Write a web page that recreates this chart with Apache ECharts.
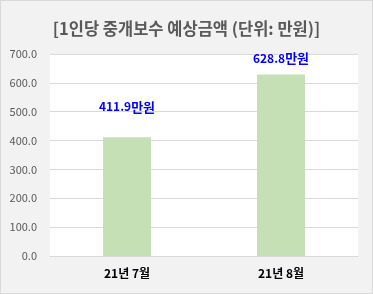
<!DOCTYPE html>
<html><head><meta charset="utf-8">
<script src="https://cdn.jsdelivr.net/npm/echarts@6/dist/echarts.min.js"></script>
<style>html,body{margin:0;padding:0;background:#f2f2f2}#c{width:373px;height:294px;box-sizing:border-box;border:1px solid #d9d9d9}</style>
</head><body><div id="c"></div>
<script>
const title = '[1인당 중개보수 예상금액 (단위: 만원)]';
const categories = ['21년 7월', '21년 8월'];
const values = [411.9, 628.8];
const labelDistances = [24, 10];
const yMax = 700, yInterval = 100;
const FONT = "'Noto Sans CJK KR', 'Noto Sans', sans-serif";

const chart = echarts.init(document.getElementById('c'), null, {renderer: 'canvas'});
chart.setOption({
  backgroundColor: '#f2f2f2',
  animation: false,
  title: {text: title, left: 'center', top: 14,
    textStyle: {fontFamily: FONT, fontSize: 16.5, fontWeight: 'bold', color: '#595959'}},
  grid: {left: 49, right: 14, top: 53, bottom: 37, show: true, backgroundColor: '#ffffff', borderWidth: 0},
  xAxis: {type: 'category', data: categories,
    axisLine: {lineStyle: {color: '#d9d9d9'}}, axisTick: {show: false},
    axisLabel: {fontFamily: FONT, fontSize: 12, fontWeight: 'bold', color: '#000', margin: 11}},
  yAxis: {type: 'value', min: 0, max: yMax, interval: yInterval,
    axisLine: {show: false}, axisTick: {show: false},
    splitLine: {lineStyle: {color: '#d9d9d9'}},
    axisLabel: {fontFamily: FONT, fontSize: 11, color: '#595959', margin: 13,
      formatter: v => v.toFixed(1)}},
  series: [{type: 'bar', barWidth: 48,
    itemStyle: {color: '#c5e0b4'},
    data: values.map((v, i) => ({value: v, label: {distance: labelDistances[i]}})),
    label: {show: true, position: 'top',
      formatter: p => '{n|' + p.value.toFixed(1) + '}{u|만원}',
      rich: {n: {fontFamily: FONT, fontSize: 12, fontWeight: 'bold', color: '#0000ff'},
             u: {fontFamily: FONT, fontSize: 13, fontWeight: 'bold', color: '#0000ff'}}}
  }]
});
</script></body></html>
